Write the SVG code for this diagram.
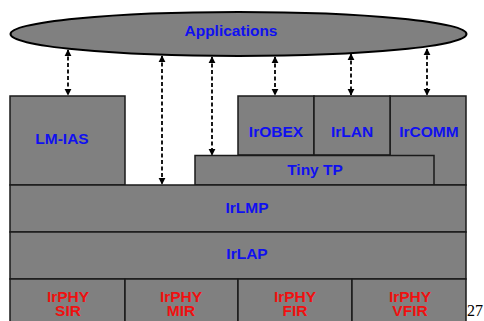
<svg xmlns="http://www.w3.org/2000/svg" width="484" height="321" viewBox="0 0 484 321">
<style>
.box{fill:#808080;stroke:#1a1a1a;stroke-width:1.5}
.t{font-family:"Liberation Sans",Arial,sans-serif;font-weight:bold;font-size:15.5px;text-anchor:middle;fill:#1010f0}
.r{fill:#f01010}
.c{fill:none;stroke:#000;stroke-width:1.8;stroke-dasharray:4 2.5}
</style>
<defs>
<marker id="ah" viewBox="0 0 10 10" refX="9" refY="5" markerWidth="4" markerHeight="4" orient="auto-start-reverse" markerUnits="strokeWidth">
<path d="M0,0 L10,5 L0,10 z" fill="#000"/>
</marker>
</defs>
<rect width="484" height="321" fill="#fff"/>
<g id="applications">
<ellipse cx="238.5" cy="34" rx="228" ry="22" fill="#808080" stroke="#000" stroke-width="2"/>
<text class="t" x="231" y="36" font-size="16px">Applications</text>
</g>
<g id="connectors">
<line class="c" x1="68" y1="50" x2="68" y2="95" marker-start="url(#ah)" marker-end="url(#ah)"/>
<line class="c" x1="162" y1="56" x2="162" y2="184" marker-start="url(#ah)" marker-end="url(#ah)"/>
<line class="c" x1="212" y1="57" x2="212" y2="155" marker-start="url(#ah)" marker-end="url(#ah)"/>
<line class="c" x1="275" y1="57" x2="275" y2="95" marker-start="url(#ah)" marker-end="url(#ah)"/>
<line class="c" x1="351" y1="54" x2="351" y2="95" marker-start="url(#ah)" marker-end="url(#ah)"/>
<line class="c" x1="427" y1="49" x2="427" y2="95" marker-start="url(#ah)" marker-end="url(#ah)"/>
</g>
<g id="lm-ias">
<rect class="box" x="10" y="96" width="115" height="89"/>
<text class="t" x="62" y="144">LM-IAS</text>
</g>
<g id="ircomm">
<rect class="box" x="390" y="96" width="76" height="89"/>
<text class="t" x="429" y="137">IrCOMM</text>
</g>
<g id="irobex">
<rect class="box" x="238" y="96" width="76" height="59"/>
<text class="t" x="276" y="137">IrOBEX</text>
</g>
<g id="irlan">
<rect class="box" x="314" y="96" width="76" height="59"/>
<text class="t" x="352" y="137">IrLAN</text>
</g>
<g id="tinytp">
<rect class="box" x="195" y="155.5" width="239" height="29.5"/>
<text class="t" x="315" y="175">Tiny TP</text>
</g>
<g id="irlmp">
<rect class="box" x="10" y="185" width="456" height="47"/>
<text class="t" x="247" y="213">IrLMP</text>
</g>
<g id="irlap">
<rect class="box" x="10" y="232" width="456" height="47"/>
<text class="t" x="247" y="259">IrLAP</text>
</g>
<g id="irphy-sir">
<rect class="box" x="10" y="279" width="115" height="46"/>
<text class="t r" x="68" y="302">IrPHY</text>
<text class="t r" x="68" y="316">SIR</text>
</g>
<g id="irphy-mir">
<rect class="box" x="125" y="279" width="113" height="46"/>
<text class="t r" x="181" y="302">IrPHY</text>
<text class="t r" x="181" y="316">MIR</text>
</g>
<g id="irphy-fir">
<rect class="box" x="238" y="279" width="114" height="46"/>
<text class="t r" x="295" y="302">IrPHY</text>
<text class="t r" x="295" y="316">FIR</text>
</g>
<g id="irphy-vfir">
<rect class="box" x="352" y="279" width="114" height="46"/>
<text class="t r" x="410" y="302">IrPHY</text>
<text class="t r" x="410" y="316">VFIR</text>
</g>
<text x="467" y="316" font-family="'Liberation Serif','Times New Roman',serif" font-size="16px" fill="#000">27</text>
</svg>
